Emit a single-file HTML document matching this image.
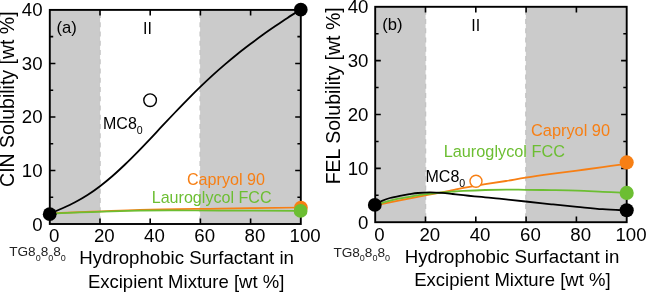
<!DOCTYPE html>
<html><head><meta charset="utf-8"><title>Solubility</title>
<style>
html,body{margin:0;padding:0;background:#fff;}
body{width:646px;height:292px;overflow:hidden;}
svg{display:block;}
text{font-family:"Liberation Sans",Arial,sans-serif;fill:#000;}
.t{font-size:18.67px}
.m{font-size:16px}
</style></head><body>
<svg width="646" height="292" viewBox="0 0 646 292">
<rect width="646" height="292" fill="#fff"/>
<rect x="49.8" y="9.9" width="50.3" height="214.1" fill="#cbcbcb"/>
<rect x="200.1" y="9.9" width="100.7" height="214.1" fill="#cbcbcb"/>
<line x1="100.1" y1="12.9" x2="100.1" y2="222" stroke="#c4c4c4" stroke-width="1.3" stroke-dasharray="5 4.25"/>
<line x1="200.1" y1="12.9" x2="200.1" y2="222" stroke="#c4c4c4" stroke-width="1.3" stroke-dasharray="5 4.25"/>
<path d="M50 213.4C65 212.8 111.67 210.6 140 209.8C168.33 209 193.2 208.98 220 208.6C246.8 208.22 287.33 207.68 300.8 207.5" stroke="#f77f14" stroke-width="1.7" fill="none" stroke-linecap="round" stroke-linejoin="round"/>
<path d="M50 213.6C65 213.1 111.67 211.1 140 210.6C168.33 210.1 193.2 210.57 220 210.6C246.8 210.63 287.33 210.77 300.8 210.8" stroke="#6cbe32" stroke-width="1.7" fill="none" stroke-linecap="round" stroke-linejoin="round"/>
<path d="M50 213.6C52.08 212.72 58.33 210.18 62.5 208.3C66.67 206.42 70.83 204.52 75 202.3C79.17 200.08 83.33 197.68 87.5 195C91.67 192.32 95.83 189.37 100 186.2C104.17 183.03 108.33 179.62 112.5 176C116.67 172.38 120.83 168.48 125 164.5C129.17 160.52 133.33 156.33 137.5 152.1C141.67 147.87 145.83 143.5 150 139.1C154.17 134.7 158.33 130.13 162.5 125.7C166.67 121.27 170.83 116.85 175 112.5C179.17 108.15 183.33 103.82 187.5 99.6C191.67 95.38 195.83 91.23 200 87.2C204.17 83.17 208.33 79.2 212.5 75.4C216.67 71.6 220.83 67.97 225 64.4C229.17 60.83 233.33 57.35 237.5 54C241.67 50.65 245.83 47.47 250 44.3C254.17 41.13 258.33 38 262.5 35C266.67 32 270.83 29.15 275 26.3C279.17 23.45 283.23 20.68 287.5 17.9C291.77 15.12 298.42 10.98 300.6 9.6" stroke="#000" stroke-width="1.8" fill="none" stroke-linecap="round" stroke-linejoin="round"/>
<path d="M100 9.9v5.6M100 224v-5.6M150.2 9.9v5.6M150.2 224v-5.6M200.4 9.9v5.6M200.4 224v-5.6M250.6 9.9v5.6M250.6 224v-5.6M49.8 170.47h5.6M300.8 170.47h-5.6M49.8 116.95h5.6M300.8 116.95h-5.6M49.8 63.43h5.6M300.8 63.43h-5.6M49.8 197.24h3.4M300.8 197.24h-3.4M49.8 143.71h3.4M300.8 143.71h-3.4M49.8 90.19h3.4M300.8 90.19h-3.4M49.8 36.66h3.4M300.8 36.66h-3.4" stroke="#000" stroke-width="1.6" fill="none"/>
<rect x="49.8" y="9.9" width="251" height="214.1" fill="none" stroke="#000" stroke-width="1.9"/>
<circle cx="300.9" cy="207.7" r="6.9" fill="#f77f14"/>
<circle cx="300.6" cy="210.9" r="6.9" fill="#6cbe32"/>
<circle cx="49.7" cy="214.2" r="6.9" fill="#000"/>
<circle cx="300.8" cy="9.65" r="6.85" fill="#000"/>
<circle cx="150.1" cy="100.2" r="6.3" fill="#fff" stroke="#000" stroke-width="1.4"/>
<text x="56.4" y="33.1" font-size="16.6">(a)</text>
<text x="147.5" y="33.8" class="m" text-anchor="middle">II</text>
<text x="103" y="129.2" class="m">MC8<tspan font-size="10.6" dy="4.6">0</tspan></text>
<text x="187" y="185.1" font-size="16.1" style="fill:#f77f14">Capryol 90</text>
<text x="151.7" y="202.6" font-size="16.1" style="fill:#6cbe32">Lauroglycol FCC</text>
<text x="42.6" y="230.5" class="t" text-anchor="end">0</text>
<text x="42.6" y="176.97" class="t" text-anchor="end">10</text>
<text x="42.6" y="123.45" class="t" text-anchor="end">20</text>
<text x="42.6" y="69.93" class="t" text-anchor="end">30</text>
<text x="42.6" y="16.4" class="t" text-anchor="end">40</text>
<text x="54.1" y="242" class="t" text-anchor="middle">0</text>
<text x="104.3" y="242" class="t" text-anchor="middle">20</text>
<text x="154.5" y="242" class="t" text-anchor="middle">40</text>
<text x="204.7" y="242" class="t" text-anchor="middle">60</text>
<text x="254.9" y="242" class="t" text-anchor="middle">80</text>
<text x="305.1" y="242" class="t" text-anchor="middle">100</text>
<text x="9.2" y="256.4" font-size="13.6" style="fill:#222">TG8<tspan font-size="9" dy="4.4">0</tspan><tspan dy="-4.4">8</tspan><tspan font-size="9" dy="4.4">0</tspan><tspan dy="-4.4">8</tspan><tspan font-size="9" dy="4.4">0</tspan></text>
<text x="186.6" y="264.1" class="t" text-anchor="middle">Hydrophobic Surfactant in</text>
<text x="186.1" y="288" font-size="18.5" text-anchor="middle">Excipient Mixture [wt %]</text>
<text transform="translate(14 99.15) rotate(-90)" font-size="19.5" text-anchor="middle">CIN Solubility [wt %]</text>
<rect x="375.2" y="6.8" width="50.4" height="215.4" fill="#cbcbcb"/>
<rect x="525.8" y="6.8" width="100.9" height="215.4" fill="#cbcbcb"/>
<line x1="425.6" y1="9.8" x2="425.6" y2="220.2" stroke="#c4c4c4" stroke-width="1.3" stroke-dasharray="5 4.25"/>
<line x1="525.8" y1="9.8" x2="525.8" y2="220.2" stroke="#c4c4c4" stroke-width="1.3" stroke-dasharray="5 4.25"/>
<path d="M375.2 205.2C376.2 205.02 377.32 204.85 381.2 204.1C385.08 203.35 392 201.98 398.5 200.7C405 199.42 412.97 197.8 420.2 196.4C427.43 195 436.48 193.35 441.9 192.3C447.32 191.25 449.1 190.83 452.7 190.1C456.3 189.37 458.08 188.88 463.5 187.9C468.92 186.92 478.12 185.35 485.2 184.2C492.28 183.05 499.25 182.1 506 181C512.75 179.9 518.13 178.78 525.7 177.6C533.27 176.42 542.83 175.07 551.4 173.9C559.97 172.73 568.55 171.73 577.1 170.6C585.65 169.47 594.43 168.23 602.7 167.1C610.97 165.97 622.7 164.35 626.7 163.8" stroke="#f77f14" stroke-width="1.8" fill="none" stroke-linecap="round" stroke-linejoin="round"/>
<path d="M375.2 205C376.2 204.68 377.32 204.15 381.2 203.1C385.08 202.05 393.82 199.75 398.5 198.7C403.18 197.65 405.68 197.43 409.3 196.8C412.92 196.17 416.58 195.43 420.2 194.9C423.82 194.37 427.38 194 431 193.6C434.62 193.2 438.28 192.83 441.9 192.5C445.52 192.17 449.1 191.87 452.7 191.6C456.3 191.33 458.08 191.17 463.5 190.9C468.92 190.63 478.12 190.22 485.2 190C492.28 189.78 499.25 189.63 506 189.6C512.75 189.57 518.13 189.72 525.7 189.8C533.27 189.88 542.83 189.97 551.4 190.1C559.97 190.23 568.55 190.32 577.1 190.6C585.65 190.88 594.43 191.42 602.7 191.8C610.97 192.18 622.7 192.72 626.7 192.9" stroke="#6cbe32" stroke-width="1.8" fill="none" stroke-linecap="round" stroke-linejoin="round"/>
<path d="M375.2 205C375.75 204.63 377.37 203.5 378.5 202.8C379.63 202.1 380.08 201.6 382 200.8C383.92 200 387.02 198.83 390 198C392.98 197.17 396.68 196.43 399.9 195.8C403.12 195.17 406.3 194.67 409.3 194.2C412.3 193.73 414.47 193.3 417.9 193C421.33 192.7 425.9 192.42 429.9 192.4C433.9 192.38 438.1 192.63 441.9 192.9C445.7 193.17 449.1 193.62 452.7 194C456.3 194.38 459.88 194.82 463.5 195.2C467.12 195.58 470.78 195.95 474.4 196.3C478.02 196.65 481.6 196.97 485.2 197.3C488.8 197.63 492.53 197.95 496 198.3C499.47 198.65 501.05 198.87 506 199.4C510.95 199.93 518.13 200.68 525.7 201.5C533.27 202.32 542.83 203.42 551.4 204.3C559.97 205.18 568.55 205.98 577.1 206.8C585.65 207.62 594.43 208.58 602.7 209.2C610.97 209.82 622.7 210.28 626.7 210.5" stroke="#000" stroke-width="1.8" fill="none" stroke-linecap="round" stroke-linejoin="round"/>
<path d="M425.5 6.8v5.6M425.5 222.2v-5.6M475.8 6.8v5.6M475.8 222.2v-5.6M526.1 6.8v5.6M526.1 222.2v-5.6M576.4 6.8v5.6M576.4 222.2v-5.6M375.2 168.35h5.6M626.7 168.35h-5.6M375.2 114.5h5.6M626.7 114.5h-5.6M375.2 60.65h5.6M626.7 60.65h-5.6M375.2 195.27h3.4M626.7 195.27h-3.4M375.2 141.43h3.4M626.7 141.43h-3.4M375.2 87.57h3.4M626.7 87.57h-3.4M375.2 33.72h3.4M626.7 33.72h-3.4" stroke="#000" stroke-width="1.6" fill="none"/>
<rect x="375.2" y="6.8" width="251.5" height="215.4" fill="none" stroke="#000" stroke-width="1.9"/>
<circle cx="626.7" cy="162.4" r="7.05" fill="#f77f14"/>
<circle cx="626.7" cy="192.9" r="7.05" fill="#6cbe32"/>
<circle cx="626.7" cy="210.3" r="7.05" fill="#000"/>
<circle cx="374.8" cy="204.9" r="6.9" fill="#000"/>
<circle cx="476" cy="181.2" r="6" fill="#fff" stroke="#f77f14" stroke-width="1.4"/>
<text x="382.2" y="30.1" font-size="16.6">(b)</text>
<text x="475.7" y="30.8" class="m" text-anchor="middle">II</text>
<text x="425.5" y="181.9" class="m">MC8<tspan font-size="10.6" dy="4.6">0</tspan></text>
<text x="531" y="135.9" font-size="16.35" style="fill:#f77f14">Capryol 90</text>
<text x="443.7" y="156.7" font-size="16.3" style="fill:#6cbe32">Lauroglycol FCC</text>
<text x="368.4" y="228.7" class="t" text-anchor="end">0</text>
<text x="368.4" y="174.85" class="t" text-anchor="end">10</text>
<text x="368.4" y="121" class="t" text-anchor="end">20</text>
<text x="368.4" y="67.15" class="t" text-anchor="end">30</text>
<text x="368.4" y="13.3" class="t" text-anchor="end">40</text>
<text x="379.5" y="240.9" class="t" text-anchor="middle">0</text>
<text x="429.8" y="240.9" class="t" text-anchor="middle">20</text>
<text x="480.1" y="240.9" class="t" text-anchor="middle">40</text>
<text x="530.4" y="240.9" class="t" text-anchor="middle">60</text>
<text x="580.7" y="240.9" class="t" text-anchor="middle">80</text>
<text x="631" y="240.9" class="t" text-anchor="middle">100</text>
<text x="333.4" y="256.8" font-size="13.6" style="fill:#222">TG8<tspan font-size="9" dy="4.4">0</tspan><tspan dy="-4.4">8</tspan><tspan font-size="9" dy="4.4">0</tspan><tspan dy="-4.4">8</tspan><tspan font-size="9" dy="4.4">0</tspan></text>
<text x="512" y="262.5" class="t" text-anchor="middle">Hydrophobic Surfactant in</text>
<text x="512.4" y="286.4" font-size="18.5" text-anchor="middle">Excipient Mixture [wt %]</text>
<text transform="translate(339.5 95.8) rotate(-90)" font-size="19.5" text-anchor="middle">FEL Solubility [wt %]</text>
</svg>
</body></html>
